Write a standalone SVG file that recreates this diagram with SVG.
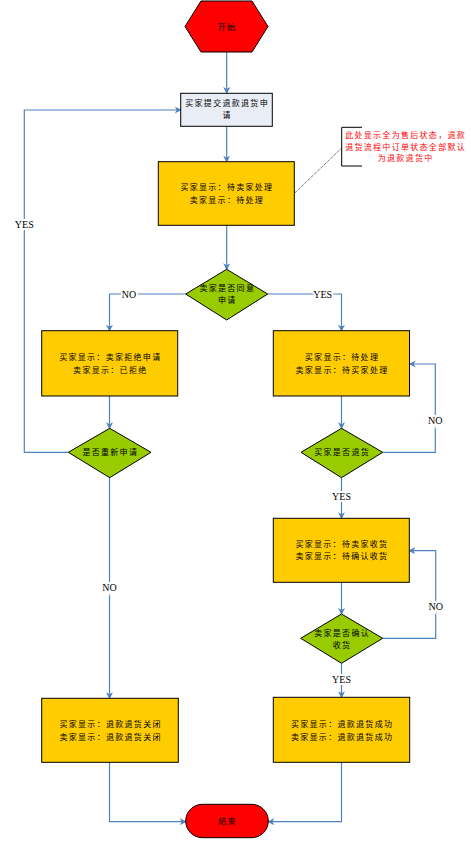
<svg xmlns="http://www.w3.org/2000/svg" width="471" height="841" viewBox="0 0 471 841">
<style>
.t{font-family:"Noto Sans CJK SC","Liberation Sans",sans-serif;font-size:8px;letter-spacing:1.3px;fill:#000;text-anchor:middle}
.r{fill:#FF0000}
.lbl{font-family:"Liberation Serif",serif;font-size:10px;fill:#000;text-anchor:middle;stroke:#fff;stroke-width:4px;paint-order:stroke}
.box{fill:#FFCC00;stroke:#000;stroke-width:1}
.dia{fill:#99CC00;stroke:#000;stroke-width:1}
.c{fill:none;stroke:#4F81BD;stroke-width:1.2}
</style>
<defs>
<marker id="ah" markerUnits="userSpaceOnUse" markerWidth="8" markerHeight="8" refX="6" refY="3.5" orient="auto">
<path d="M0,0 L7,3.5 L0,7 L2,3.5 z" fill="#4F81BD"/>
</marker>
</defs>
<rect width="471" height="841" fill="#fff"/>
<g id="connectors">
<path class="c" d="M226.7,52 V93" marker-end="url(#ah)"/>
<path class="c" d="M226.7,126.3 V161.7" marker-end="url(#ah)"/>
<path class="c" d="M226.7,225.3 V269.3" marker-end="url(#ah)"/>
<path class="c" d="M185.7,294 H109.5 V330.7" marker-end="url(#ah)"/>
<path class="c" d="M267.7,294 H341.5 V330.7" marker-end="url(#ah)"/>
<path class="c" d="M109.5,396 V428.3" marker-end="url(#ah)"/>
<path class="c" d="M341.5,396 V428.3" marker-end="url(#ah)"/>
<path class="c" d="M68.3,452.3 H24.3 V110 H180.7" marker-end="url(#ah)"/>
<path class="c" d="M382.7,452.3 H435.3 V364 H409.7" marker-end="url(#ah)"/>
<path class="c" d="M109.5,477.7 V698.3" marker-end="url(#ah)"/>
<path class="c" d="M341.5,477.7 V518.3" marker-end="url(#ah)"/>
<path class="c" d="M341.5,582.3 V614" marker-end="url(#ah)"/>
<path class="c" d="M382.7,638.3 H435.7 V550.7 H409.3" marker-end="url(#ah)"/>
<path class="c" d="M341.5,663.3 V697.3" marker-end="url(#ah)"/>
<path class="c" d="M109.5,762.3 V821.7 H185.7" marker-end="url(#ah)"/>
<path class="c" d="M341.5,762.3 V821.7 H268.3" marker-end="url(#ah)"/>
<text class="lbl" x="129" y="297.5">NO</text>
<text class="lbl" x="322.7" y="297.5">YES</text>
<text class="lbl" x="24.3" y="227.8">YES</text>
<text class="lbl" x="435.3" y="424">NO</text>
<text class="lbl" x="341.5" y="500">YES</text>
<text class="lbl" x="109.5" y="590.5">NO</text>
<text class="lbl" x="435.7" y="610">NO</text>
<text class="lbl" x="341.5" y="682.7">YES</text>
</g>
<g id="start">
<polygon points="185,26.5 201,1 252,1 268,26.5 252,52 201,52" fill="#FF0000" stroke="#000" stroke-width="1"/>
<text class="t" x="227.1" y="29.5">开始</text>
</g>
<g id="submit">
<rect x="180.7" y="93.3" width="91.6" height="33" fill="#E9EDF6" stroke="#000" stroke-width="1"/>
<text class="t" x="227.1" y="106.3">买家提交退款退货申</text>
<text class="t" x="227.1" y="118">请</text>
</g>
<g id="pending">
<rect class="box" x="158.3" y="161.7" width="136" height="63.6"/>
<text class="t" x="226.9" y="189.7">买家显示：待卖家处理</text>
<text class="t" x="226.9" y="203">卖家显示：待处理</text>
</g>
<g id="note">
<path d="M295,192.7 L341.7,148" fill="none" stroke="#000" stroke-width="0.8" stroke-dasharray="1,1"/>
<path d="M362,127.3 H341.7 V166 H362" fill="none" stroke="#000" stroke-width="1"/>
<text class="t r" x="405.6" y="137.8">此处显示全为售后状态，退款</text>
<text class="t r" x="405.6" y="149.5">退货流程中订单状态全部默认</text>
<text class="t r" x="405.6" y="161.2">为退款退货中</text>
</g>
<g id="agree">
<polygon class="dia" points="226.7,269.3 267.7,294 226.7,320 185.7,294"/>
<text class="t" x="227.3" y="291">卖家是否同意</text>
<text class="t" x="227.3" y="303">申请</text>
</g>
<g id="rejected">
<rect class="box" x="41.7" y="330.7" width="136" height="65.3"/>
<text class="t" x="110.3" y="360.3">买家显示：卖家拒绝申请</text>
<text class="t" x="110.3" y="373">卖家显示：已拒绝</text>
</g>
<g id="agreed">
<rect class="box" x="273.3" y="330.7" width="136.2" height="65.3"/>
<text class="t" x="342" y="360.3">买家显示：待处理</text>
<text class="t" x="342" y="373">卖家显示：待买家处理</text>
</g>
<g id="reapply">
<polygon class="dia" points="109.7,428.3 151,452.3 109.7,477.7 68.3,452.3"/>
<text class="t" x="110.3" y="455.3">是否重新申请</text>
</g>
<g id="return">
<polygon class="dia" points="341.5,428.3 382.7,452.3 341.5,477.7 301,452.3"/>
<text class="t" x="342.1" y="455.3">买家是否退货</text>
</g>
<g id="receiving">
<rect class="box" x="273.3" y="518.3" width="136" height="64"/>
<text class="t" x="341.9" y="547">买家显示：待卖家收货</text>
<text class="t" x="341.9" y="559.3">卖家显示：待确认收货</text>
</g>
<g id="confirm">
<polygon class="dia" points="341.5,614 382.7,638.3 341.5,663.3 300.7,638.3"/>
<text class="t" x="342.1" y="635.5">卖家是否确认</text>
<text class="t" x="342.1" y="647.5">收货</text>
</g>
<g id="closed">
<rect class="box" x="41.7" y="698.3" width="136.6" height="64"/>
<text class="t" x="110.6" y="727">买家显示：退款退货关闭</text>
<text class="t" x="110.6" y="739.7">卖家显示：退款退货关闭</text>
</g>
<g id="success">
<rect class="box" x="273.3" y="697.3" width="136.4" height="65"/>
<text class="t" x="342.1" y="727">买家显示：退款退货成功</text>
<text class="t" x="342.1" y="739.7">卖家显示：退款退货成功</text>
</g>
<g id="end">
<rect x="185.7" y="804.3" width="82.6" height="33.4" rx="16.7" fill="#FF0000" stroke="#000" stroke-width="1"/>
<text class="t" x="227.6" y="824">结束</text>
</g>
</svg>
